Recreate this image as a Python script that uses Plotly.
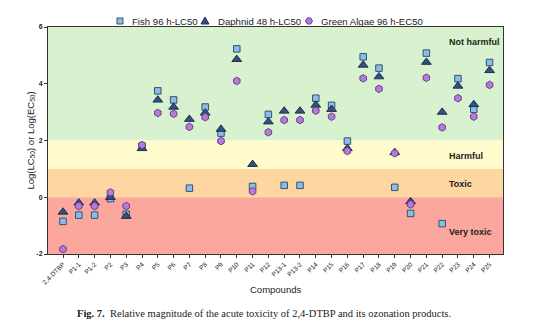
import math
import plotly.graph_objects as go

compounds = ["2,4-DTBP", "P1-1", "P1-2", "P2", "P3", "P4", "P5", "P6", "P7", "P8",
             "P9", "P10", "P11", "P12", "P13-1", "P13-2", "P14", "P15", "P16", "P17",
             "P18", "P19", "P20", "P21", "P22", "P23", "P24", "P25"]

fish_lc50 = [-0.85, -0.63, -0.63, -0.05, -0.60, 1.80, 3.75, 3.43, 0.32, 3.18,
             2.26, 5.23, 0.38, 2.92, 0.42, 0.42, 3.49, 3.24, 1.98, 4.95,
             4.55, 0.35, -0.57, 5.08, -0.93, 4.18, 3.10, 4.75]
daphnid_lc50 = [-0.52, -0.20, -0.20, 0.00, -0.67, 1.72, 3.43, 3.18, 2.75, 2.97,
                2.40, 4.86, 1.16, 2.66, 3.04, 3.04, 3.25, 3.10, 1.72, 4.66,
                4.25, 1.58, -0.15, 4.76, 3.00, 3.92, 3.27, 4.47]
algae_ec50 = [-1.83, -0.31, -0.31, 0.17, -0.31, 1.84, 2.97, 2.94, 2.48, 2.82,
              1.98, 4.10, 0.21, 2.29, 2.72, 2.72, 3.05, 2.84, 1.63, 4.19,
              3.82, 1.55, -0.25, 4.21, 2.46, 3.49, 2.84, 3.96]

series_names = ["Fish 96 h-LC50", "Daphnid 48 h-LC50", "Green Algae 96 h-EC50"]

# toxicity classes: (lower, upper, fill, label, label position)
bands = [
    (2, 6, "#d8f2d0", "Not harmful", 5.48),
    (1, 2, "#fffbcc", "Harmful", 1.45),
    (0, 1, "#fdd6a2", "Toxic", 0.46),
    (-2, 0, "#fba79d", "Very toxic", -1.24),
]

W, H = 554, 336
ML, MR, MT, MB = 48, 51, 27, 82
PW, PH = W - ML - MR, H - MT - MB


def px_x(x):
    return (x - ML) / PW


def px_y(y):
    return (H - MB - y) / PH


SANS = "Arial, Liberation Sans, sans-serif"
x_idx = list(range(len(compounds)))

styles = [
    dict(symbol="square", size=6.5, color="#86bfea", line=dict(color="#3b4f6b", width=1)),
    dict(symbol="triangle-up", size=8.5, color="#34507f", line=dict(color="#1f2f4f", width=1)),
    dict(symbol="hexagon", size=7.5, color="#b57bdb", line=dict(color="#6a3f8a", width=1)),
]

fig = go.Figure()
for name, vals, st in zip(series_names, [fish_lc50, daphnid_lc50, algae_ec50], styles):
    fig.add_trace(go.Scatter(x=x_idx, y=vals, mode="markers", name=name,
                             marker=st, showlegend=False))

shapes = []
annotations = []
for lo, hi, col, label, ypos in bands:
    shapes.append(dict(type="rect", xref="paper", yref="y", x0=0, x1=1,
                       y0=lo, y1=hi, fillcolor=col, line=dict(width=0),
                       layer="below"))
    annotations.append(dict(x=px_x(447), xref="paper", y=ypos, yref="y",
                            text="<b>%s</b>" % label, showarrow=False,
                            xanchor="left", yanchor="middle",
                            font=dict(family=SANS, size=9, color="#222")))

# key above the plot area: glyph + label for each series
key_y = 21
key_items = [(120, 130), (205, 216), (309, 319)]


def glyph_path(kind, cx, cy):
    if kind == "square":
        r = 3
        pts = [(cx - r, cy - r), (cx + r, cy - r), (cx + r, cy + r), (cx - r, cy + r)]
    elif kind == "triangle":
        pts = [(cx, cy - 4), (cx + 4, cy + 3), (cx - 4, cy + 3)]
    else:
        r = 3.5
        pts = [(cx + r * math.cos(math.radians(a)), cy + r * math.sin(math.radians(a)))
               for a in range(0, 360, 60)]
    return "M " + " L ".join("%.4f,%.4f" % (px_x(x), px_y(y)) for x, y in pts) + " Z"


for (gx, tx), name, st, kind in zip(key_items, series_names, styles,
                                     ["square", "triangle", "hexagon"]):
    shapes.append(dict(type="path", xref="paper", yref="paper",
                       path=glyph_path(kind, gx, key_y),
                       fillcolor=st["color"], line=dict(color=st["line"]["color"], width=1)))
    annotations.append(dict(x=px_x(tx), xref="paper", y=px_y(key_y), yref="paper",
                            text=name, showarrow=False, xanchor="left", yanchor="middle",
                            font=dict(family=SANS, size=9.6, color="#222")))

annotations.append(dict(x=px_x(275), xref="paper", y=px_y(289), yref="paper",
                        text="Compounds", showarrow=False,
                        xanchor="center", yanchor="middle",
                        font=dict(family=SANS, size=9.5, color="#222")))
annotations.append(dict(x=px_x(30), xref="paper", y=0.5, yref="paper",
                        text="Log(LC<sub>50</sub>) or Log(EC<sub>50</sub>)",
                        textangle=-90, showarrow=False,
                        xanchor="center", yanchor="middle",
                        font=dict(family=SANS, size=9.5, color="#222")))
annotations.append(dict(x=px_x(264), xref="paper", y=px_y(313), yref="paper",
                        text="<b>Fig. 7.</b>  Relative magnitude of the acute toxicity of 2,4-DTBP and its ozonation products.",
                        showarrow=False, xanchor="center", yanchor="middle",
                        font=dict(family="Liberation Serif, Times New Roman, serif",
                                  size=10.5, color="#222")))

fig.update_layout(
    width=W, height=H,
    margin=dict(l=ML, r=MR, t=MT, b=MB, autoexpand=False),
    paper_bgcolor="white", plot_bgcolor="white",
    shapes=shapes, annotations=annotations,
    showlegend=False,
    xaxis=dict(
        range=[-0.95, 27.85], tickmode="array", tickvals=x_idx, ticktext=compounds,
        tickangle=-45, tickfont=dict(family=SANS, size=6.5, color="#222"),
        showgrid=False, zeroline=False, showline=True, linecolor="#333",
        linewidth=1, mirror=True, ticks="outside", ticklen=3, tickcolor="#333",
    ),
    yaxis=dict(
        range=[-2, 6], tickmode="array", tickvals=[-2, 0, 2, 4, 6],
        ticktext=["<b>-2</b>", "<b>0</b>", "<b>2</b>", "<b>4</b>", "<b>6</b>"],
        tickfont=dict(family=SANS, size=7, color="#222"),
        showgrid=False, zeroline=False, showline=True, linecolor="#333",
        linewidth=1, mirror=True, ticks="outside", ticklen=3, tickcolor="#333",
    ),
)

fig.write_html("out.html")
